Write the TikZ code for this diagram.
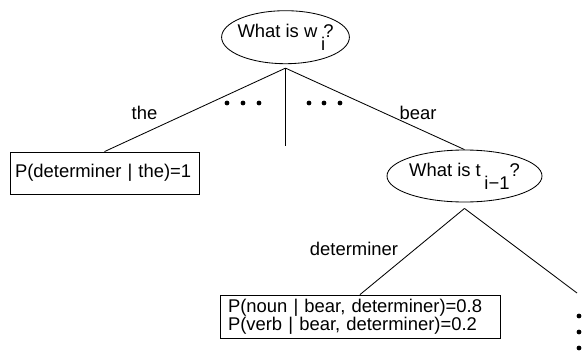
\documentclass[tikz,border=0pt]{standalone}
\usepackage{fontspec}
\setmainfont{Liberation Sans}
\usetikzlibrary{calc,positioning,shapes.geometric}

\newcommand{\qsub}[1]{\kern0.2em\raisebox{-0.7em}{#1}}

\begin{document}
\begin{tikzpicture}[%
  every node/.style={font=\fontsize{13.1pt}{12.8pt}\selectfont},
  question/.style={draw,ellipse,line width=0.6pt,inner xsep=-2pt,inner ysep=0pt},
  probbox/.style={draw,rectangle,line width=0.6pt,align=left,inner ysep=0pt},
  branch/.style={line width=0.6pt},
  ]

  \useasboundingbox (0,0) rectangle (14.6,-8.8);

  \node [question, minimum width=3.175cm, minimum height=1.325cm] at(7.1375,-0.93) (root) {What is w\qsub{i}\kern-0.1em?};
  \coordinate [below=1mm of root.south] (wfork);

  \node [probbox, text width=4.475cm, inner xsep=0.125cm, minimum height=1.05cm] at(2.6125,-4.325) (thebox) {P(determiner | the)=1};
  \coordinate (midend) at(7.1375,-3.65);

  \node [question, minimum width=3.875cm, minimum height=1.3cm] at(11.6125,-4.4) (tquest) {What is t\qsub{i−1}?};
  \coordinate [below=1.5mm of tquest.south] (tfork);

  \draw [branch] (wfork) -- (thebox.north);
  \draw [branch] (wfork) -- (midend);
  \draw [branch] (wfork) -- (tquest.north);

  \node at(3.6125,-2.825) (the_lbl) {the};
  \node at(10.45,-2.825) (bear_lbl) {bear};

  % hidden branches
  \foreach \x in {5.675,6.075,6.475,7.725,8.1,8.5}
    \fill (\x,-2.575) circle (0.06);

  %second level

  \node [probbox, text width=6.6cm, inner xsep=0.2cm, minimum height=1.075cm] at(9.0,-7.9125) (bearbox) {P(noun | bear, determiner)=0.8\\P(verb | bear, determiner)=0.2};
  \coordinate (rightend) at(14.425,-7.325);

  \draw [branch] (tfork) -- (bearbox.north);
  \draw [branch] (tfork) -- (rightend);

  \node at(8.85,-6.225) (det_lbl) {determiner};

  \foreach \y in {-7.9,-8.3,-8.7}
    \fill (14.475,\y) circle (0.06);

\end{tikzpicture}
\end{document}
